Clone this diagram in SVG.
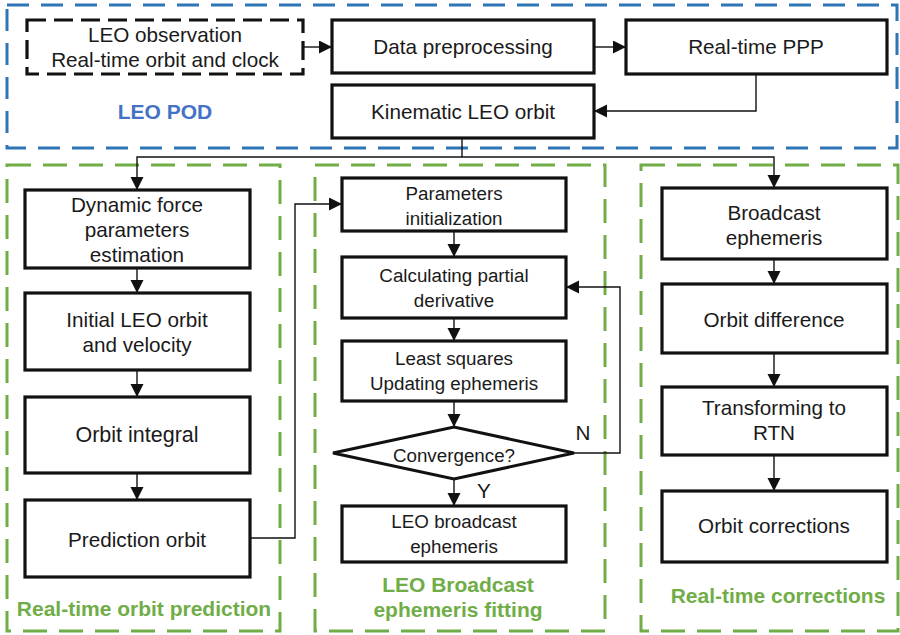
<svg xmlns="http://www.w3.org/2000/svg" width="900" height="635" viewBox="0 0 900 635">
<defs>
<marker id="ah" markerUnits="userSpaceOnUse" markerWidth="14" markerHeight="14" refX="13" refY="6.5" orient="auto">
<path d="M0,0 L13,6.5 L0,13 z" fill="#111"/>
</marker>
<style>
.box{fill:#fff;stroke:#111;stroke-width:3.2}
.dbox{fill:#fff;stroke:#111;stroke-width:3.2;stroke-dasharray:19 8}
.blue{fill:none;stroke:#2e75b6;stroke-width:3;stroke-dasharray:22 12}
.green{fill:none;stroke:#70ad47;stroke-width:3;stroke-dasharray:24 12}
.t{font-family:"Liberation Sans",Arial,sans-serif;font-size:20.7px;fill:#1a1a1a;text-anchor:middle}
.s{font-size:18.8px}
.lb{font-family:"Liberation Sans",Arial,sans-serif;font-weight:bold;font-size:21px;text-anchor:middle}
.c{fill:none;stroke:#111;stroke-width:1.4}
</style>
</defs>
<g id="groups">
<rect class="blue" x="7" y="5" width="890" height="143"/>
<rect class="green" x="7" y="165" width="273" height="466"/>
<rect class="green" x="315" y="165" width="290" height="466"/>
<rect class="green" x="641" y="165" width="257" height="466"/>
<text class="lb" x="165" y="119" fill="#4472c4">LEO POD</text>
<text class="lb" x="144" y="616" fill="#70ad47">Real-time orbit prediction</text>
<text class="lb" x="458" y="592" fill="#70ad47">LEO Broadcast</text>
<text class="lb" x="458" y="617" fill="#70ad47">ephemeris fitting</text>
<text class="lb" x="778" y="603" fill="#70ad47">Real-time corrections</text>
</g>
<g id="connectors">
<line class="c" x1="303" y1="47" x2="332" y2="47" marker-end="url(#ah)"/>
<line class="c" x1="594" y1="47" x2="626" y2="47" marker-end="url(#ah)"/>
<polyline class="c" points="756,74 756,111 594,111" marker-end="url(#ah)"/>
<line class="c" x1="462" y1="138" x2="462" y2="157"/>
<polyline class="c" points="462,157 137,157 137,190" marker-end="url(#ah)"/>
<polyline class="c" points="462,157 774,157 774,188" marker-end="url(#ah)"/>
<line class="c" x1="137" y1="268" x2="137" y2="293" marker-end="url(#ah)"/>
<line class="c" x1="137" y1="370" x2="137" y2="397" marker-end="url(#ah)"/>
<line class="c" x1="137" y1="473" x2="137" y2="500" marker-end="url(#ah)"/>
<polyline class="c" points="250,538 295,538 295,204 342,204" marker-end="url(#ah)"/>
<line class="c" x1="454" y1="231" x2="454" y2="257" marker-end="url(#ah)"/>
<line class="c" x1="454" y1="318" x2="454" y2="341" marker-end="url(#ah)"/>
<line class="c" x1="454" y1="401" x2="454" y2="427" marker-end="url(#ah)"/>
<line class="c" x1="454" y1="479" x2="454" y2="506" marker-end="url(#ah)"/>
<polyline class="c" points="574,453 620,453 620,287 566,287" marker-end="url(#ah)"/>
<text class="t" x="583" y="440">N</text>
<text class="t" x="484" y="498">Y</text>
<line class="c" x1="774" y1="259" x2="774" y2="284" marker-end="url(#ah)"/>
<line class="c" x1="774" y1="353" x2="774" y2="387" marker-end="url(#ah)"/>
<line class="c" x1="774" y1="455" x2="774" y2="491" marker-end="url(#ah)"/>
</g>
<g id="n-input">
<rect class="dbox" x="27" y="20" width="276" height="54"/>
<text class="t" x="165" y="42">LEO observation</text>
<text class="t" x="165" y="67">Real-time orbit and clock</text>
</g>
<g id="n-preproc">
<rect class="box" x="332" y="20" width="262" height="53"/>
<text class="t" x="463" y="54">Data preprocessing</text>
</g>
<g id="n-ppp">
<rect class="box" x="626" y="20" width="261" height="54"/>
<text class="t" x="756" y="54">Real-time PPP</text>
</g>
<g id="n-kin">
<rect class="box" x="332" y="85" width="262" height="53"/>
<text class="t" x="463" y="119">Kinematic LEO orbit</text>
</g>
<g id="n-dyn">
<rect class="box" x="25" y="190" width="225" height="78"/>
<text class="t" x="137" y="212">Dynamic force</text>
<text class="t" x="137" y="237">parameters</text>
<text class="t" x="137" y="262">estimation</text>
</g>
<g id="n-init">
<rect class="box" x="25" y="293" width="225" height="77"/>
<text class="t" x="137" y="327">Initial LEO orbit</text>
<text class="t" x="137" y="352">and velocity</text>
</g>
<g id="n-integral">
<rect class="box" x="25" y="397" width="225" height="76"/>
<text class="t" x="137" y="442" style="font-size:21.5px">Orbit integral</text>
</g>
<g id="n-pred">
<rect class="box" x="25" y="500" width="225" height="77"/>
<text class="t" x="137" y="547">Prediction orbit</text>
</g>
<g id="n-param">
<rect class="box" x="342" y="178" width="224" height="53"/>
<text class="t s" x="454" y="200">Parameters</text>
<text class="t s" x="454" y="225">initialization</text>
</g>
<g id="n-calc">
<rect class="box" x="342" y="257" width="224" height="61"/>
<text class="t s" x="454" y="282">Calculating partial</text>
<text class="t s" x="454" y="307">derivative</text>
</g>
<g id="n-ls">
<rect class="box" x="342" y="341" width="224" height="60"/>
<text class="t s" x="454" y="365">Least squares</text>
<text class="t s" x="454" y="390">Updating ephemeris</text>
</g>
<g id="n-conv">
<polygon points="333,453 454,427 574,453 454,479" fill="#fff" stroke="#111" stroke-width="3"/>
<text class="t s" x="454" y="462">Convergence?</text>
</g>
<g id="n-leobe">
<rect class="box" x="342" y="506" width="224" height="56"/>
<text class="t s" x="454" y="528">LEO broadcast</text>
<text class="t s" x="454" y="553">ephemeris</text>
</g>
<g id="n-be">
<rect class="box" x="662" y="188" width="225" height="71"/>
<text class="t" x="774" y="220">Broadcast</text>
<text class="t" x="774" y="245">ephemeris</text>
</g>
<g id="n-diff">
<rect class="box" x="662" y="284" width="225" height="69"/>
<text class="t" x="774" y="327">Orbit difference</text>
</g>
<g id="n-rtn">
<rect class="box" x="662" y="387" width="225" height="68"/>
<text class="t" x="774" y="415">Transforming to</text>
<text class="t" x="774" y="440">RTN</text>
</g>
<g id="n-corr">
<rect class="box" x="662" y="491" width="225" height="71"/>
<text class="t" x="774" y="533">Orbit corrections</text>
</g>
</svg>
